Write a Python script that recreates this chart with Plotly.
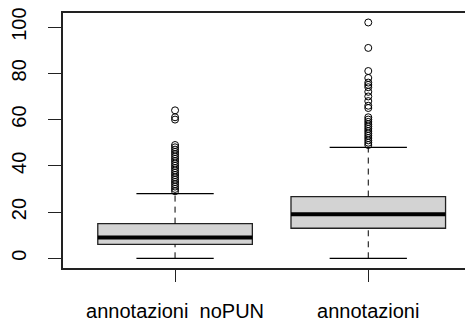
import plotly.graph_objects as go

# ---- data ----
categories = ["annotazioni  noPUN", "annotazioni"]
positions = [1, 2]
q1 = [6, 13]
median = [9, 19]
q3 = [15, 26.7]
whisker_low = [0, 0]
whisker_high = [28, 48]
outliers_noPUN = [29, 30, 31, 32, 33, 34, 35, 36, 37, 38, 39, 40, 41, 42, 43,
                  44, 45, 46, 47, 48, 49, 60, 61, 64]
outliers_annot = [49, 50, 51, 52, 53, 54, 55, 56, 57, 58, 59, 60, 61, 65, 66,
                  68, 70, 72, 74, 75, 76, 78, 81, 91, 102]
outliers = [outliers_noPUN, outliers_annot]
y_ticks = [0, 20, 40, 60, 80, 100]

BOX_W = 0.8
STAPLE_W = 0.4
FONT = "Liberation Sans, Arial, sans-serif"

fig = go.Figure()

# dashed whiskers
wx, wy = [], []
for p, lo, a, b, hi in zip(positions, whisker_low, q1, q3, whisker_high):
    wx += [p, p, None, p, p, None]
    wy += [lo, a, None, b, hi, None]
fig.add_trace(go.Scatter(x=wx, y=wy, mode="lines",
                         line=dict(color="black", width=1, dash="6px,5px"),
                         hoverinfo="skip", showlegend=False))

# staples
sx, sy = [], []
for p, lo, hi in zip(positions, whisker_low, whisker_high):
    sx += [p - STAPLE_W / 2, p + STAPLE_W / 2, None, p - STAPLE_W / 2, p + STAPLE_W / 2, None]
    sy += [lo, lo, None, hi, hi, None]
fig.add_trace(go.Scatter(x=sx, y=sy, mode="lines",
                         line=dict(color="black", width=1.2),
                         hoverinfo="skip", showlegend=False))

# boxes
fig.add_trace(go.Box(x=positions, q1=q1, median=median, q3=q3,
                     lowerfence=q1, upperfence=q3, width=BOX_W,
                     fillcolor="#D3D3D3", line=dict(color="#222222", width=1.3),
                     boxpoints=False, hoverinfo="skip", showlegend=False))

# thick medians
mx, my = [], []
for p, m in zip(positions, median):
    mx += [p - BOX_W / 2, p + BOX_W / 2, None]
    my += [m, m, None]
fig.add_trace(go.Scatter(x=mx, y=my, mode="lines",
                         line=dict(color="black", width=4),
                         hoverinfo="skip", showlegend=False))

# outliers
ox, oy = [], []
for p, vals in zip(positions, outliers):
    ox += [p] * len(vals)
    oy += vals
fig.add_trace(go.Scatter(x=ox, y=oy, mode="markers",
                         marker=dict(symbol="circle-open", size=7,
                                     color="black", line=dict(width=1)),
                         hoverinfo="skip", showlegend=False))

# page body has an 8px default margin, so the figure is 8px smaller
fig.update_layout(
    width=465, height=314,
    margin=dict(l=48, r=0, t=5, b=47),
    paper_bgcolor="white", plot_bgcolor="white",
    font=dict(family=FONT, size=20, color="black"),
    showlegend=False,
)
fig.update_xaxes(range=[0.42, 2.542], tickvals=positions, ticktext=categories,
                 showgrid=False, zeroline=False, showline=True, mirror=True,
                 linecolor="#222222", linewidth=1.5, ticks="outside", ticklen=12,
                 tickcolor="#222222", tickwidth=1.2, ticklabelstandoff=12,
                 ticklabeloverflow="allow")
fig.update_yaxes(range=[-4.2, 106.1], tickvals=y_ticks, tickangle=-90,
                 showgrid=False, zeroline=False, showline=True, mirror=False,
                 linecolor="#222222", linewidth=1.5, ticks="outside", ticklen=13,
                 tickcolor="#222222", tickwidth=1.2, ticklabelstandoff=14,
                 ticklabeloverflow="allow")

fig.write_html("out.html")
